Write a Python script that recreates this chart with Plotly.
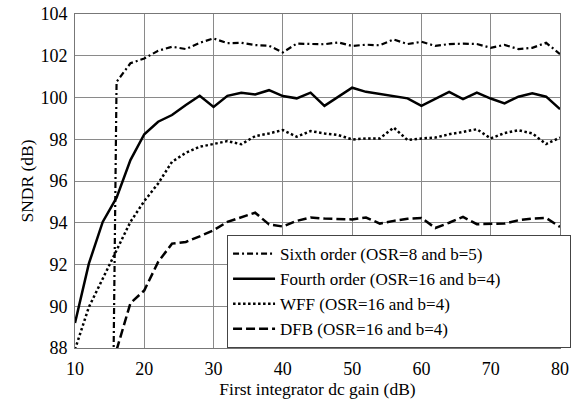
import plotly.graph_objects as go

x_gain = [10, 12, 14, 16, 18, 20, 22, 24, 26, 28, 30, 32, 34, 36, 38, 40, 42, 44,
          46, 48, 50, 52, 54, 56, 58, 60, 62, 64, 66, 68, 70, 72, 74, 76, 78, 80]

sixth_x = [14] + x_gain[3:]
sixth = [40.0, 100.75, 101.64, 101.87, 102.24, 102.43, 102.32, 102.62, 102.83, 102.6,
         102.62, 102.51, 102.48, 102.16, 102.58, 102.55, 102.55, 102.64, 102.47, 102.53,
         102.5, 102.78, 102.56, 102.67, 102.47, 102.56, 102.58, 102.56, 102.38, 102.52,
         102.32, 102.38, 102.62, 102.08]

fourth = [89.2, 92.04, 94.04, 95.2, 97.0, 98.24, 98.84, 99.16, 99.64, 100.08, 99.55,
          100.08, 100.23, 100.15, 100.35, 100.07, 99.96, 100.23, 99.6, 100.04, 100.47,
          100.27, 100.16, 100.07, 99.96, 99.6, 99.93, 100.27, 99.92, 100.23, 99.95,
          99.72, 100.04, 100.2, 100.04, 99.44]

wff = [87.93, 89.96, 91.32, 92.68, 94.04, 95.04, 95.88, 96.92, 97.35, 97.64, 97.79,
       97.91, 97.76, 98.15, 98.28, 98.44, 98.12, 98.39, 98.28, 98.2, 97.99, 98.04,
       98.04, 98.56, 97.96, 98.04, 98.08, 98.24, 98.35, 98.48, 98.04, 98.3, 98.43,
       98.28, 97.77, 98.08]

dfb_x = x_gain[3:]
dfb = [87.9, 90.15, 90.76, 92.12, 93.0, 93.08, 93.35, 93.64, 94.04, 94.25, 94.48,
       93.92, 93.82, 94.09, 94.25, 94.2, 94.19, 94.16, 94.25, 93.96, 94.09, 94.19,
       94.23, 93.75, 94.0, 94.28, 93.93, 93.96, 93.96, 94.12, 94.2, 94.23, 93.8]

names = ["Sixth order (OSR=8 and b=5)", "Fourth order (OSR=16 and b=4)",
         "WFF (OSR=16 and b=4)", "DFB (OSR=16 and b=4)"]

x_ticks = [10, 20, 30, 40, 50, 60, 70, 80]
y_ticks = [88, 90, 92, 94, 96, 98, 100, 102, 104]

FONT = "Liberation Serif, Times New Roman, serif"
PAD = "\u00a0" * 15 + "\u200b"  # keeps the legend box as wide as in the original

fig = go.Figure()
fig.add_trace(go.Scatter(x=sixth_x, y=sixth, mode="lines", name=names[0],
                         line=dict(color="black", width=2.2, dash="6px,3px,2px,3px")))
fig.add_trace(go.Scatter(x=x_gain, y=fourth, mode="lines", name=names[1] + PAD,
                         line=dict(color="black", width=2.5)))
fig.add_trace(go.Scatter(x=x_gain, y=wff, mode="lines", name=names[2],
                         line=dict(color="black", width=2.5, dash="2.5px,2.5px")))
fig.add_trace(go.Scatter(x=dfb_x, y=dfb, mode="lines", name=names[3],
                         line=dict(color="black", width=2.5, dash="9px,4px")))

fig.update_layout(
    width=583, height=399,
    margin=dict(l=75, r=20, t=14, b=51),
    paper_bgcolor="white", plot_bgcolor="white",
    font=dict(family=FONT, size=18, color="black"),
    showlegend=True,
    legend=dict(x=0.3135, y=0, xanchor="left", yanchor="bottom",
                bgcolor="white", bordercolor="#444", borderwidth=1,
                font=dict(family=FONT, size=17), tracegroupgap=0,
                itemwidth=42),
    xaxis=dict(range=[10, 80], tickvals=x_ticks, showgrid=True, gridcolor="#8a8a8a",
               gridwidth=1, showline=True, linecolor="#777", linewidth=1, mirror=True,
               ticks="", zeroline=False, tickfont=dict(size=18), ticklabelstandoff=4,
               automargin=False,
               title=dict(text="First integrator dc gain (dB)", standoff=6,
                          font=dict(size=17.5))),
    yaxis=dict(range=[88, 104], tickvals=y_ticks, showgrid=True, gridcolor="#8a8a8a",
               gridwidth=1, showline=True, linecolor="#777", linewidth=1, mirror=True,
               ticks="", zeroline=False, tickfont=dict(size=18), ticklabelstandoff=3,
               automargin=False,
               title=dict(text="SNDR (dB)", standoff=2, font=dict(size=17.5))),
)

fig.write_html("out.html")
